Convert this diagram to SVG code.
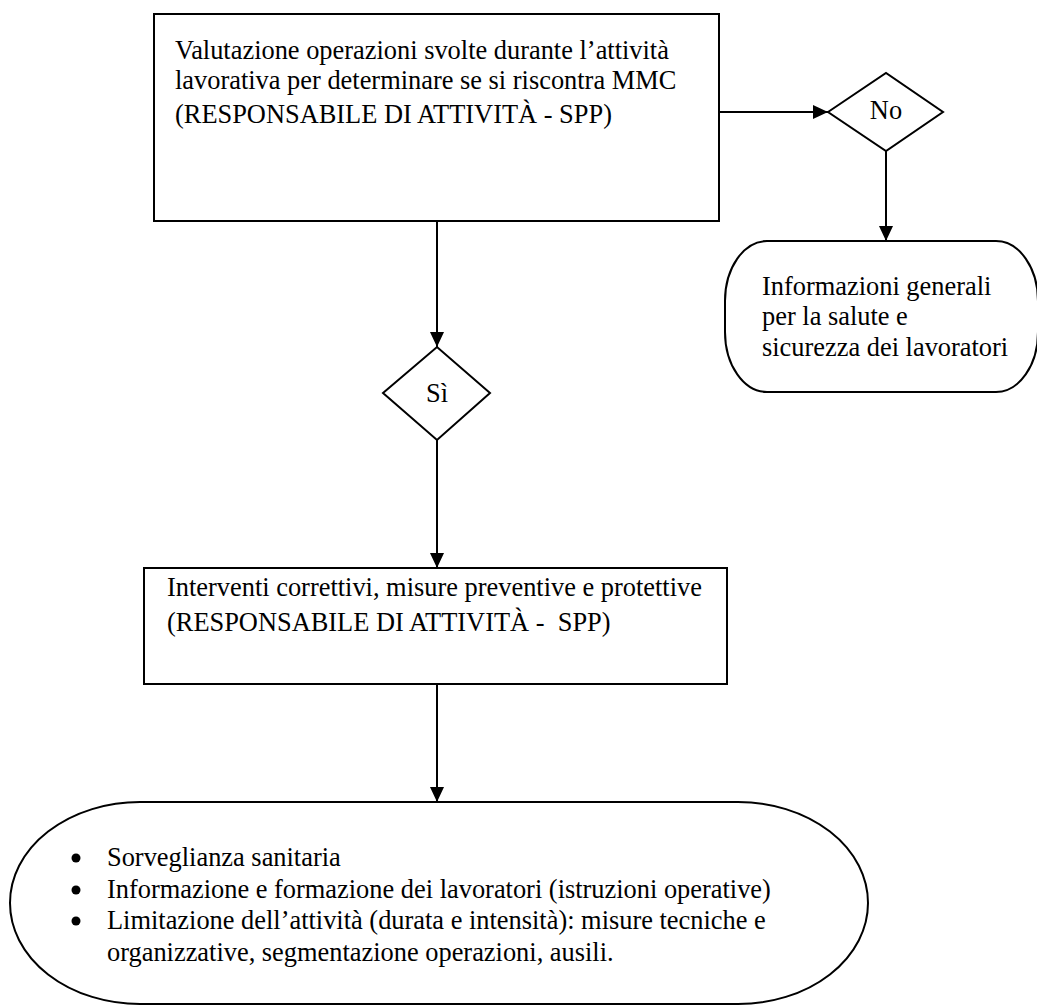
<svg xmlns="http://www.w3.org/2000/svg" width="1037" height="1005" viewBox="0 0 1037 1005">
<style>
.shape{fill:#fff;stroke:#000;stroke-width:2}
.t{font-family:"Liberation Serif","Times New Roman",serif;font-size:26.4px;fill:#000}
.c{text-anchor:middle}
.conn{fill:none;stroke:#000;stroke-width:2}
.dot{fill:#000}
</style>
<defs>
<marker id="arr" markerUnits="userSpaceOnUse" markerWidth="16" markerHeight="15" refX="15" refY="7" orient="auto">
<path d="M0,0 L15,7 L0,14 z" fill="#000"/>
</marker>
</defs>
<rect width="1037" height="1005" fill="#fff"/>
<g id="connectors">
<line class="conn" x1="719" y1="112" x2="828" y2="112" marker-end="url(#arr)"/>
<line class="conn" x1="886" y1="151" x2="886" y2="241" marker-end="url(#arr)"/>
<line class="conn" x1="437" y1="221" x2="437" y2="347" marker-end="url(#arr)"/>
<line class="conn" x1="437" y1="440" x2="437" y2="568" marker-end="url(#arr)"/>
<line class="conn" x1="437" y1="684" x2="437" y2="802" marker-end="url(#arr)"/>
</g>
<g id="valutazione">
<rect class="shape" x="154" y="14" width="565" height="207"/>
<text class="t" x="175" y="59">Valutazione operazioni svolte durante l’attività</text>
<text class="t" x="175" y="89">lavorativa per determinare se si riscontra MMC</text>
<text class="t" x="175" y="123">(RESPONSABILE DI ATTIVITÀ - SPP)</text>
</g>
<g id="no">
<polygon class="shape" points="828,112 886,73 943,112 886,151"/>
<text class="t c" x="886" y="119">No</text>
</g>
<g id="informazioni">
<rect class="shape" x="725" y="241" width="313" height="151" rx="42" ry="60"/>
<text class="t" x="762" y="295">Informazioni generali</text>
<text class="t" x="762" y="325">per la salute e</text>
<text class="t" x="762" y="356">sicurezza dei lavoratori</text>
</g>
<g id="si">
<polygon class="shape" points="383,393 437,347 490,393 437,440"/>
<text class="t c" x="437" y="402">Sì</text>
</g>
<g id="interventi">
<rect class="shape" x="144" y="568" width="583" height="116"/>
<text class="t" x="167" y="596">Interventi correttivi, misure preventive e protettive</text>
<text class="t" x="167" y="631">(RESPONSABILE DI ATTIVITÀ -&#160; SPP)</text>
</g>
<g id="misure">
<rect class="shape" x="10" y="802" width="858" height="202" rx="130" ry="101"/>
<circle class="dot" cx="76" cy="858" r="4.5"/>
<circle class="dot" cx="76" cy="890" r="4.5"/>
<circle class="dot" cx="76" cy="921" r="4.5"/>
<text class="t" x="107" y="866">Sorveglianza sanitaria</text>
<text class="t" x="107" y="898">Informazione e formazione dei lavoratori (istruzioni operative)</text>
<text class="t" x="107" y="929">Limitazione dell’attività (durata e intensità): misure tecniche e</text>
<text class="t" x="107" y="961">organizzative, segmentazione operazioni, ausili.</text>
</g>
</svg>
